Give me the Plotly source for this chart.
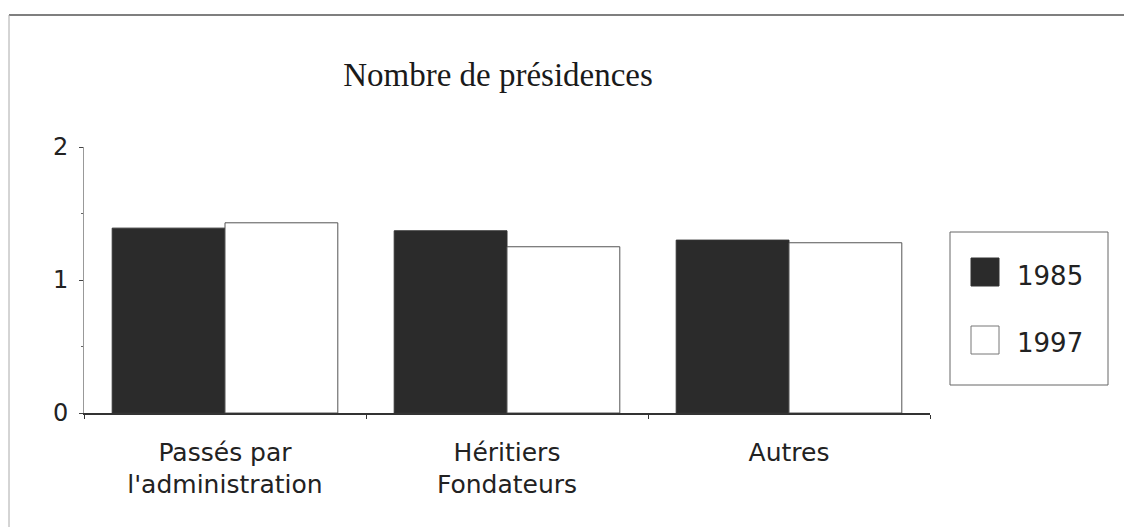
"""
Nombre de présidences, 1985 vs 1997 -- grouped bar chart with Plotly.
"""

import plotly.graph_objects as go

# Data
categories = ["Passés par<br>l'administration", "Héritiers<br>Fondateurs", "Autres"]
years = ["1985", "1997"]
values_1985 = [1.39, 1.37, 1.30]
values_1997 = [1.43, 1.25, 1.28]
y_ticks = [0, 1, 2]

# Page geometry (pixels). The html page puts the figure 8px in from the corner.
PAGE_W, PAGE_H = 1132, 527
OFF = 8
W, H = PAGE_W - OFF, PAGE_H - OFF
ML, MR, MT, MB = 84 - OFF, 202, 147 - OFF, 114
PW = W - ML - MR
PH = H - MT - MB


def px(x):
    """Page pixel x -> paper x."""
    return (x - OFF - ML) / PW


def py(y):
    """Page pixel y -> paper y."""
    return (MT + PH - (y - OFF)) / PH


sans = "DejaVu Sans"
serif = "Liberation Serif, Times New Roman, serif"

fig = go.Figure()

# Bars
fig.add_trace(
    go.Bar(
        x=categories,
        y=values_1985,
        name=years[0],
        marker=dict(color="#2b2b2b", line=dict(color="#333333", width=1)),
        showlegend=False,
    )
)
fig.add_trace(
    go.Bar(
        x=categories,
        y=values_1997,
        name=years[1],
        marker=dict(color="white", line=dict(color="#555555", width=1)),
        showlegend=False,
    )
)

# Frame around the whole chart (top and left edges visible on the scan)
shapes = [
    dict(type="line", xref="paper", yref="paper",
         x0=px(9), x1=px(PAGE_W), y0=py(15), y1=py(15),
         line=dict(color="#555555", width=1.5)),
    dict(type="line", xref="paper", yref="paper",
         x0=px(9), x1=px(9), y0=py(15), y1=py(PAGE_H),
         line=dict(color="#aaaaaa", width=1)),
    # Legend box
    dict(type="rect", xref="paper", yref="paper",
         x0=px(950), x1=px(1108), y0=py(385), y1=py(232),
         line=dict(color="#666666", width=1), fillcolor="white"),
    # Legend swatches
    dict(type="rect", xref="paper", yref="paper",
         x0=px(971), x1=px(999), y0=py(286), y1=py(258),
         line=dict(color="#333333", width=1), fillcolor="#2b2b2b"),
    dict(type="rect", xref="paper", yref="paper",
         x0=px(971), x1=px(999), y0=py(354), y1=py(326),
         line=dict(color="#777777", width=1), fillcolor="white"),
]

annotations = [
    dict(text=years[0], xref="paper", yref="paper", x=px(1015), y=py(276),
         xanchor="left", yanchor="middle", showarrow=False,
         font=dict(family=sans, size=26, color="#222222")),
    dict(text=years[1], xref="paper", yref="paper", x=px(1015), y=py(343),
         xanchor="left", yanchor="middle", showarrow=False,
         font=dict(family=sans, size=26, color="#222222")),
]

fig.update_layout(
    width=W,
    height=H,
    margin=dict(l=ML, r=MR, t=MT, b=MB, pad=0),
    paper_bgcolor="white",
    plot_bgcolor="white",
    barmode="group",
    bargap=0.2,
    bargroupgap=0,
    title=dict(
        text="Nombre de présidences",
        x=(498 - OFF) / W,
        xanchor="center",
        y=1 - (74 - OFF) / H,
        yanchor="middle",
        font=dict(family=serif, size=33, color="#1a1a1a"),
    ),
    xaxis=dict(
        showline=True,
        linecolor="#333333",
        linewidth=1.5,
        ticks="outside",
        tickson="boundaries",
        ticklen=4,
        tickcolor="#333333",
        showgrid=False,
        zeroline=False,
        ticklabelstandoff=16,
        tickfont=dict(family=sans, size=25, color="#222222"),
    ),
    yaxis=dict(
        range=[0, 2],
        tickvals=y_ticks,
        showline=True,
        linecolor="#999999",
        linewidth=1,
        ticks="outside",
        ticklen=4,
        tickcolor="#444444",
        minor=dict(ticks="outside", ticklen=2, dtick=0.5, tickcolor="#666666"),
        showgrid=False,
        zeroline=False,
        ticklabelstandoff=6,
        tickfont=dict(family=sans, size=24, color="#222222"),
    ),
    shapes=shapes,
    annotations=annotations,
)

fig.write_html("out.html")
